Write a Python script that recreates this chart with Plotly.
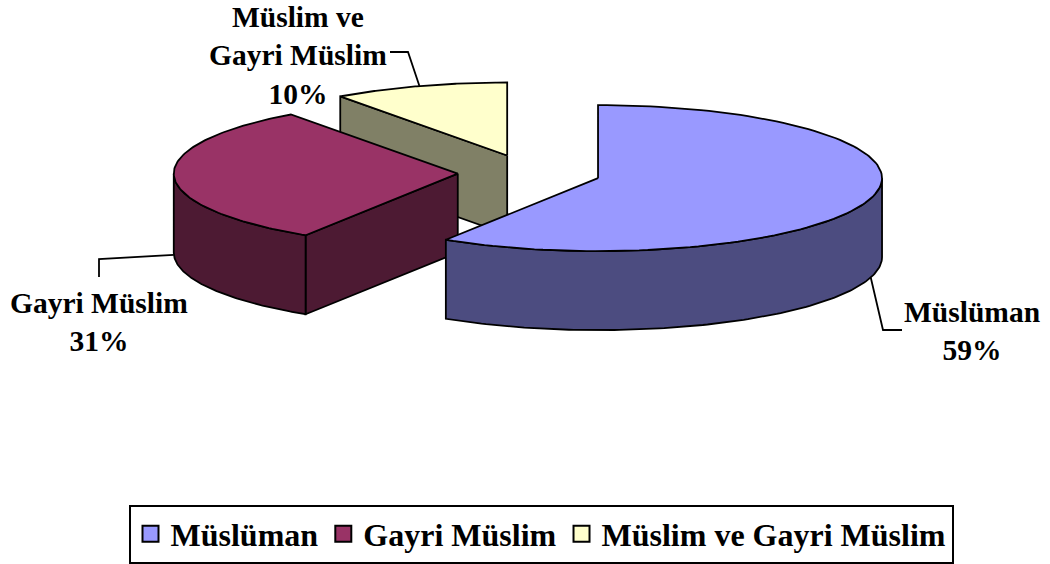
import math
import plotly.graph_objects as go

# ---- data ----
categories = ["Müslüman", "Gayri Müslim", "Müslim ve Gayri Müslim"]
values = [59, 31, 10]
label_texts = ["Müslüman<br>59%", "Gayri Müslim<br>31%", "Müslim ve<br>Gayri Müslim<br>10%"]

# ---- style ----
top_colors = ["#9999FF", "#993366", "#FFFFCC"]
side_colors = ["#4C4C80", "#4D1A33", "#808066"]
FONT = "Liberation Serif, Times New Roman, serif"

W, H = 1050, 564
CX, CY = 529.3, 173.0      # pie centre (pixels)
RX, RY = 284.0, 73.0       # ellipse radii of the top face
DEPTH = 79.0               # thickness
EXPLODE = 0.252            # explosion fraction for each slice

# label placement (pixels) and leader elbows
label_pos = [(972, 331), (99, 322), (298, 55)]
leader_elbows = [[(883, 330), (902, 330)], [(99, 259), (99, 277)], [(408, 52), (390, 52)]]


def rim(c, th, dz=0.0):
    r = math.radians(th)
    return (c[0] + RX * math.sin(r), c[1] - RY * math.cos(r) + dz)


def arc(c, a1, a2, dz=0.0, n=120):
    return [rim(c, a1 + (a2 - a1) * i / n, dz) for i in range(n + 1)]


total = float(sum(values))
slices = []
start = 0.0
for i, v in enumerate(values):
    span = 360.0 * v / total
    a1, a2 = start, start + span
    mid = math.radians((a1 + a2) / 2)
    c = (CX + EXPLODE * RX * math.sin(mid), CY - EXPLODE * RY * math.cos(mid))
    slices.append(dict(i=i, a1=a1, a2=a2, mid=(a1 + a2) / 2, c=c))
    start = a2

fig = go.Figure()


def poly(pts, color):
    xs = [p[0] for p in pts] + [pts[0][0]]
    ys = [p[1] for p in pts] + [pts[0][1]]
    fig.add_trace(go.Scatter(x=xs, y=ys, mode="lines", fill="toself",
                             fillcolor=color, line=dict(color="black", width=1.8),
                             hoverinfo="skip", showlegend=False))


# painter's order: slices further back first
for s in sorted(slices, key=lambda s: s["c"][1]):
    c, a1, a2, i = s["c"], s["a1"], s["a2"], s["i"]
    # radial faces that face the viewer
    for a, nrm in ((a1, a1 - 90), (a2, a2 + 90)):
        if math.cos(math.radians(nrm)) < -1e-6:
            p = rim(c, a)
            poly([c, p, (p[0], p[1] + DEPTH), (c[0], c[1] + DEPTH)], side_colors[i])
    # curved outer side (front half only)
    lo, hi = max(a1, 90.0), min(a2, 270.0)
    if hi > lo:
        poly(arc(c, lo, hi) + arc(c, lo, hi, DEPTH)[::-1], side_colors[i])
    # top face
    poly([c] + arc(c, a1, a2), top_colors[i])

# leader lines and labels
for s in slices:
    i = s["i"]
    back = math.cos(math.radians(s["mid"])) > 0
    anchor = rim(s["c"], s["mid"], 0.0 if back else DEPTH)
    pts = [anchor] + leader_elbows[i]
    fig.add_trace(go.Scatter(x=[p[0] for p in pts], y=[p[1] for p in pts], mode="lines",
                             line=dict(color="black", width=1.8), hoverinfo="skip",
                             showlegend=False))
    fig.add_annotation(x=label_pos[i][0], y=label_pos[i][1], text="<b>%s</b>" % label_texts[i],
                       showarrow=False, xanchor="center", yanchor="middle",
                       font=dict(family=FONT, size=29.5, color="black"))

# legend entries
for i, name in enumerate(categories):
    fig.add_trace(go.Scatter(x=[None], y=[None], mode="markers", name="<b>%s</b>" % name,
                             marker=dict(symbol="square", size=16, color=top_colors[i],
                                         line=dict(color="black", width=2))))

fig.update_layout(
    width=W, height=H,
    margin=dict(l=0, r=0, t=0, b=0),
    paper_bgcolor="white", plot_bgcolor="white",
    xaxis=dict(range=[0, W], visible=False, fixedrange=True),
    yaxis=dict(range=[H, 0], visible=False, fixedrange=True),
    showlegend=True,
    legend=dict(orientation="h", x=541 / W, xanchor="center", y=30 / H, yanchor="middle",
                bordercolor="black", borderwidth=2, bgcolor="white",
                font=dict(family=FONT, size=32, color="black"),
                itemwidth=30, tracegroupgap=0),
)

fig.write_html("out.html", config={"displayModeBar": False},
               post_script="document.body.style.margin='0';document.body.style.overflow='hidden';")
